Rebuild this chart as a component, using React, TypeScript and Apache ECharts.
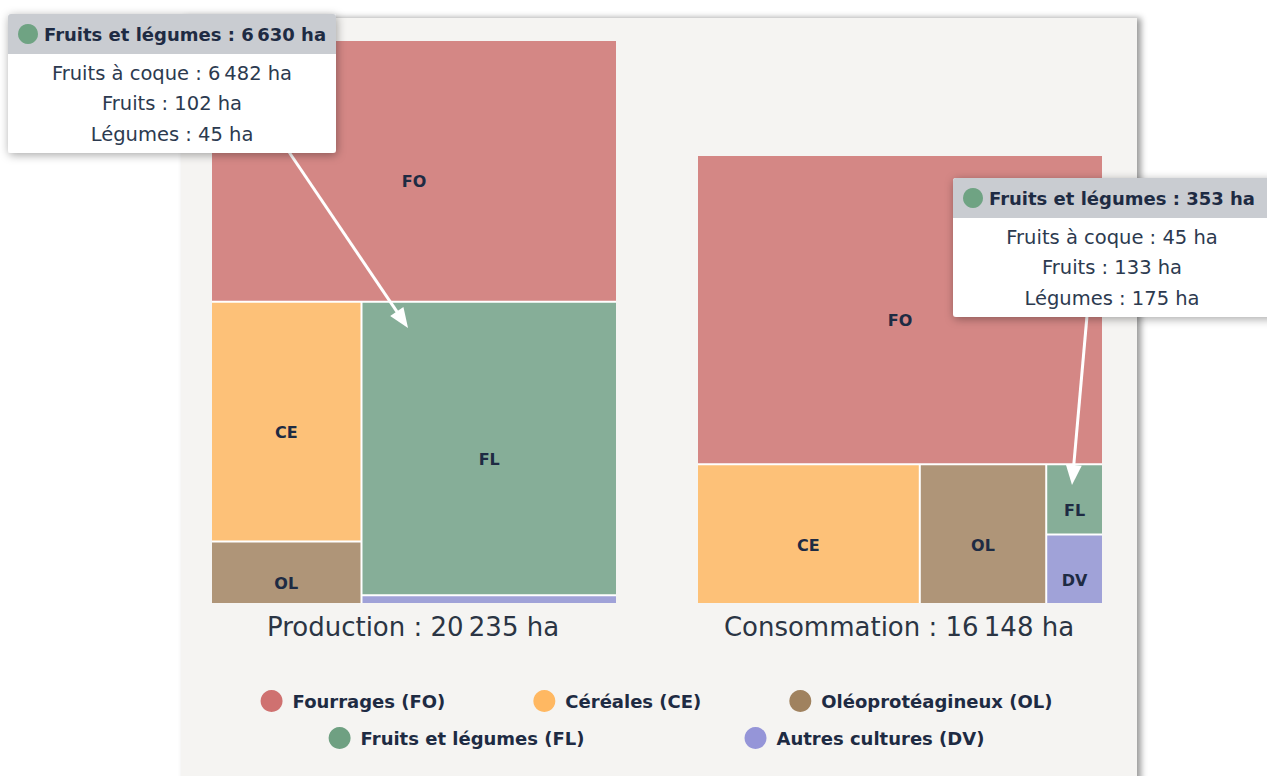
import React, { useEffect, useRef } from 'react';
import * as echarts from 'echarts';

const categories = ['Fourrages (FO)', 'Céréales (CE)', 'Oléoprotéagineux (OL)', 'Fruits et légumes (FL)', 'Autres cultures (DV)'];
const codes = ['FO', 'CE', 'OL', 'FL', 'DV'];
const productionValues = [9390, 3190, 830, 6630, 195];
const consommationValues = [11120, 2759, 1566, 353, 350];
const productionTotal = 20235;
const consommationTotal = 16148;
const cellColors = ['#d48785', '#fdc178', '#af9578', '#86ae98', '#a0a2d8'];
const legendColors = ['#cf7170', '#ffb862', '#a0825f', '#6fa082', '#9595d8'];
const flDetailLabels = ['Fruits à coque', 'Fruits', 'Légumes'];
const flDetailProduction = [6482, 102, 45];
const flDetailConsommation = [45, 133, 175];

const FONT = '"DejaVu Sans", "Open Sans", sans-serif';
const NAVY = '#1e2b43';

const fmt = (n: number) => String(n).replace(/\B(?=(\d{3})+(?!\d))/g, '\u202f');

function treemapSeries(name: string, values: number[], box: { left: number; top: number; width: number; height: number }) {
  return {
    type: 'treemap',
    name,
    ...box,
    roam: false,
    nodeClick: false,
    silent: true,
    sort: false,
    squareRatio: 1,
    breadcrumb: { show: false },
    itemStyle: { borderWidth: 0, borderColor: '#ffffff', gapWidth: 0 },
    levels: [
      { itemStyle: { borderWidth: 0, gapWidth: 2, borderColor: '#ffffff' } },
      { itemStyle: { borderWidth: 0 } },
    ],
    label: {
      show: true,
      position: 'inside',
      offset: [0, 11],
      fontSize: 16,
      fontWeight: 'bold',
      fontFamily: FONT,
      color: NAVY,
      formatter: '{b}',
    },
    data: values.map((v, i) => ({ name: codes[i], value: v, itemStyle: { color: cellColors[i] } })),
  };
}

function tooltipBox(x: number, y: number, w: number, cx: number, total: number, details: number[]) {
  const headerH = 40;
  const els: any[] = [
    {
      type: 'rect', z: 100,
      shape: { x, y, width: w, height: 139, r: 3 },
      style: { fill: '#ffffff', shadowBlur: 10, shadowColor: 'rgba(0,0,0,0.35)', shadowOffsetX: 1, shadowOffsetY: 2 },
    },
    { type: 'rect', z: 101, shape: { x, y, width: w, height: headerH, r: [3, 3, 0, 0] }, style: { fill: '#c9ccd1' } },
    { type: 'circle', z: 102, shape: { cx: x + 20, cy: y + 20, r: 10 }, style: { fill: '#6fa383' } },
    {
      type: 'text', z: 102, x: x + 36, y: y + 20,
      style: {
        text: 'Fruits et légumes : ' + fmt(total) + ' ha',
        font: `bold 18px ${FONT}`, fill: NAVY,
        align: 'left', verticalAlign: 'middle', textAlign: 'left', textVerticalAlign: 'middle',
      },
    },
  ];
  details.forEach((d, i) => {
    els.push({
      type: 'text', z: 102, x: cx, y: y + 59 + i * 30.5,
      style: {
        text: flDetailLabels[i] + ' : ' + fmt(d) + ' ha',
        font: `19.5px ${FONT}`, fill: '#2c3a4f',
        align: 'center', verticalAlign: 'middle', textAlign: 'center', textVerticalAlign: 'middle',
      },
    });
  });
  return els;
}

function arrow(x1: number, y1: number, x2: number, y2: number) {
  const dx = x2 - x1, dy = y2 - y1;
  const len = Math.sqrt(dx * dx + dy * dy);
  const ux = dx / len, uy = dy / len;
  const head = 20, half = 8;
  const bx = x2 - ux * head, by = y2 - uy * head;
  const nx = -uy, ny = ux;
  return [
    { type: 'line', z: 99, shape: { x1, y1, x2: bx + ux * 2, y2: by + uy * 2 }, style: { stroke: '#ffffff', lineWidth: 3 } },
    {
      type: 'polygon', z: 99,
      shape: { points: [[x2, y2], [bx + nx * half, by + ny * half], [bx - nx * half, by - ny * half]] },
      style: { fill: '#ffffff' },
    },
  ];
}

export default function App() {
  const ref = useRef<HTMLDivElement>(null);
  useEffect(() => {
    const chart = echarts.init(ref.current as HTMLDivElement, null, { renderer: 'svg' });
    const legendCommon = {
      left: 'center',
      icon: 'circle',
      itemWidth: 22,
      itemHeight: 22,
      selectedMode: false,
      textStyle: { fontSize: 18, fontWeight: 'bold', color: NAVY, fontFamily: FONT, padding: [0, 0, 0, 5] },
    };
    const option: any = {
      animation: false,
      legend: [
        { ...legendCommon, data: categories.slice(0, 3), top: 685, itemGap: 88 },
        { ...legendCommon, data: categories.slice(3), top: 722, itemGap: 160 },
      ],
      graphic: [
        {
          type: 'rect', z: -10,
          shape: { x: 181, y: 18, width: 956, height: 780 },
          style: { fill: '#f5f4f2', shadowBlur: 6, shadowColor: 'rgba(0,0,0,0.4)', shadowOffsetX: 4, shadowOffsetY: 0 },
        },
        {
          type: 'text', z: 5, x: 413, y: 627,
          style: {
            text: 'Production : ' + fmt(productionTotal) + ' ha', font: `26px ${FONT}`, fill: '#2b3544',
            align: 'center', verticalAlign: 'middle', textAlign: 'center', textVerticalAlign: 'middle',
          },
        },
        {
          type: 'text', z: 5, x: 899, y: 627,
          style: {
            text: 'Consommation : ' + fmt(consommationTotal) + ' ha', font: `26px ${FONT}`, fill: '#2b3544',
            align: 'center', verticalAlign: 'middle', textAlign: 'center', textVerticalAlign: 'middle',
          },
        },
        ...arrow(289, 152, 408, 328),
        ...arrow(1087, 316, 1072, 485),
        ...tooltipBox(8, 14, 328, 172, productionValues[3], flDetailProduction),
        ...tooltipBox(953, 178, 330, 1112, consommationValues[3], flDetailConsommation),
      ],
      series: [
        treemapSeries('Production', productionValues, { left: 212, top: 41, width: 404, height: 562 }),
        treemapSeries('Consommation', consommationValues, { left: 698, top: 156, width: 404, height: 447 }),
        ...categories.map((c, i) => ({
          type: 'pie', name: c, data: [], showEmptyCircle: false, silent: true,
          itemStyle: { color: legendColors[i] },
        })),
      ],
    };
    chart.setOption(option);
    return () => chart.dispose();
  }, []);
  return (
    <div style={{ position: 'fixed', left: 0, top: 0, width: 1267, height: 776, overflow: 'hidden', background: '#ffffff' }}>
      <div ref={ref} style={{ width: 1313, height: 776 }} />
    </div>
  );
}
